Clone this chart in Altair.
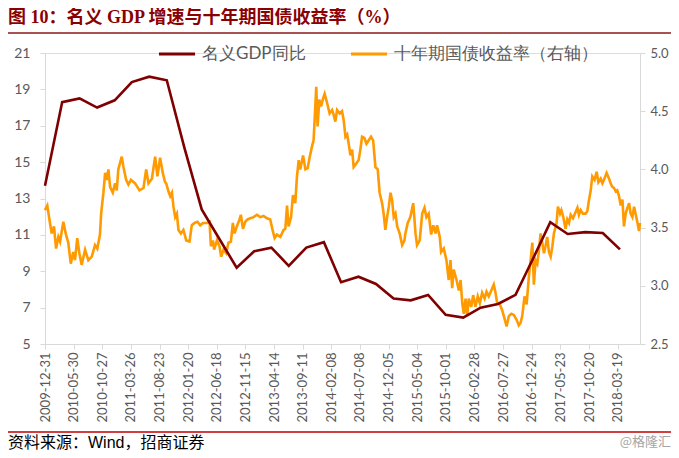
import altair as alt
import pandas as pd

# ---------------- data ----------------
GDP_DATES = [
    "2009-12-31", "2010-03-31", "2010-06-30", "2010-09-30", "2010-12-31",
    "2011-03-31", "2011-06-30", "2011-09-30", "2011-12-31", "2012-03-31",
    "2012-06-30", "2012-09-30", "2012-12-31", "2013-03-31", "2013-06-30",
    "2013-09-30", "2013-12-31", "2014-03-31", "2014-06-30", "2014-09-30",
    "2014-12-31", "2015-03-31", "2015-06-30", "2015-09-30", "2015-12-31",
    "2016-03-31", "2016-06-30", "2016-09-30", "2016-12-31", "2017-03-31",
    "2017-06-30", "2017-09-30", "2017-12-31", "2018-03-31",
]
GDP_VALUES = [
    13.7, 18.3, 18.5, 18.0, 18.4,
    19.4, 19.7, 19.5, 15.8, 12.4,
    10.8, 9.2, 10.1, 10.3, 9.3,
    10.3, 10.6, 8.4, 8.7, 8.3,
    7.5, 7.4, 7.7, 6.6, 6.45,
    7.0, 7.2, 7.7, 9.7, 11.7,
    11.05, 11.15, 11.1, 10.2,
]

# ten-year government bond yield: days after 2009-12-31 and yield (%)
BOND_START = "2009-12-31"
BOND_DAYS = [
    0, 12, 26, 35, 47, 58, 70, 79, 96, 110, 122, 135, 148, 157, 169, 180, 192,
    210, 227, 245, 262, 274, 288, 294, 306, 315, 324, 332, 341, 355, 367, 376,
    384, 402, 411, 425, 437, 450, 472, 495, 516, 530, 542, 560, 577, 589, 603,
    617, 629, 635, 647, 656, 665, 673, 682, 691, 699, 712, 725, 740, 757, 769,
    783, 799, 813, 827, 848, 862, 869, 880, 886, 901, 914, 923, 935, 949, 961,
    974, 984, 993, 1005, 1019, 1026, 1037, 1049, 1061, 1075, 1093, 1110, 1128,
    1145, 1163, 1180, 1192, 1203, 1215, 1233, 1250, 1259, 1268, 1276, 1289,
    1299, 1311, 1320, 1329, 1337, 1352, 1364, 1376, 1386, 1399, 1407, 1416,
    1421, 1428, 1437, 1446, 1457, 1465, 1478, 1491, 1504, 1512, 1521, 1530,
    1544, 1556, 1565, 1574, 1583, 1591, 1600, 1609, 1617, 1631, 1643, 1652,
    1661, 1673, 1684, 1696, 1708, 1719, 1731, 1743, 1753, 1766, 1774, 1783,
    1792, 1801, 1810, 1818, 1827, 1836, 1845, 1858, 1871, 1883, 1888, 1900,
    1914, 1929, 1941, 1949, 1963, 1976, 1988, 1998, 2010, 2023, 2034, 2046,
    2054, 2068, 2075, 2089, 2103, 2115, 2124, 2133, 2141, 2156, 2168, 2177,
    2186, 2194, 2203, 2212, 2220, 2233, 2243, 2255, 2267, 2278, 2290, 2303,
    2313, 2325, 2338, 2351, 2360, 2369, 2383, 2395, 2407, 2418, 2430, 2443,
    2456, 2470, 2482, 2491, 2500, 2512, 2523, 2535, 2544, 2553, 2561, 2570,
    2579, 2588, 2596, 2605, 2614, 2622, 2631, 2640, 2649, 2658, 2666, 2680,
    2687, 2698, 2705, 2715, 2727, 2736, 2745, 2754, 2766, 2776, 2789, 2797,
    2806, 2818, 2832, 2841, 2850, 2859, 2867, 2879, 2890, 2899, 2911, 2920,
    2928, 2942, 2955, 2963, 2972, 2981, 2990, 2998, 3007, 3016, 3025, 3033,
    3042, 3051, 3060, 3068, 3077, 3086, 3095, 3104, 3112, 3117,
]
BOND_VALUES = [
    3.65, 3.69, 3.54, 3.45, 3.51, 3.32, 3.42, 3.38, 3.55, 3.44, 3.37, 3.19,
    3.29, 3.22, 3.41, 3.28, 3.18, 3.31, 3.22, 3.25, 3.35, 3.32, 3.44, 3.62,
    3.80, 3.97, 3.91, 4.00, 3.85, 3.80, 3.88, 3.82, 4.00, 4.11, 4.02, 3.91,
    3.87, 3.91, 3.88, 3.82, 3.84, 4.00, 3.88, 3.92, 4.11, 3.94, 4.10, 3.97,
    3.89, 3.88, 3.81, 3.77, 3.80, 3.68, 3.59, 3.62, 3.48, 3.45, 3.48, 3.39,
    3.38, 3.52, 3.54, 3.55, 3.52, 3.54, 3.54, 3.55, 3.34, 3.39, 3.31, 3.39,
    3.34, 3.25, 3.31, 3.28, 3.37, 3.38, 3.54, 3.45, 3.51, 3.57, 3.61, 3.49,
    3.55, 3.57, 3.58, 3.59, 3.61, 3.59, 3.60, 3.58, 3.57, 3.48, 3.41, 3.44,
    3.42, 3.48, 3.49, 3.69, 3.51, 3.59, 3.78, 3.71, 3.94, 4.08, 4.00, 4.12,
    4.00, 4.01, 4.10, 4.20, 4.25, 4.54, 4.71, 4.37, 4.60, 4.54, 4.61, 4.65,
    4.57, 4.48, 4.51, 4.47, 4.41, 4.51, 4.48, 4.50, 4.42, 4.28, 4.30, 4.22,
    4.12, 4.17, 4.02, 4.05, 4.08, 4.17, 4.28, 4.27, 4.22, 4.25, 4.28, 4.25,
    4.02, 4.00, 3.80, 3.71, 3.62, 3.48, 3.59, 3.68, 3.80, 3.74, 3.59, 3.62,
    3.51, 3.45, 3.35, 3.39, 3.45, 3.54, 3.59, 3.71, 3.45, 3.35, 3.39, 3.62,
    3.67, 3.59, 3.62, 3.44, 3.52, 3.45, 3.52, 3.42, 3.29, 3.32, 3.22, 3.05,
    3.22, 2.98, 3.14, 3.05, 2.96, 3.05, 2.85, 2.76, 2.89, 2.74, 2.89, 2.82,
    2.92, 2.82, 2.91, 2.85, 2.94, 2.89, 2.95, 2.91, 2.96, 3.01, 2.94, 2.85,
    2.84, 2.79, 2.72, 2.65, 2.74, 2.76, 2.75, 2.71, 2.66, 2.68, 2.74, 2.91,
    2.84, 3.08, 3.22, 3.37, 3.01, 3.22, 3.19, 3.31, 3.45, 3.37, 3.28, 3.34,
    3.42, 3.29, 3.25, 3.34, 3.45, 3.54, 3.68, 3.62, 3.65, 3.59, 3.49, 3.57,
    3.54, 3.61, 3.58, 3.62, 3.67, 3.61, 3.65, 3.62, 3.62, 3.64, 3.74, 3.82,
    3.94, 3.91, 3.98, 3.89, 3.92, 3.88, 3.91, 3.97, 3.92, 3.88, 3.85, 3.84,
    3.81, 3.82, 3.77, 3.69, 3.74, 3.51, 3.62, 3.67, 3.71, 3.62, 3.59, 3.68,
    3.61, 3.54, 3.47, 3.54,
]

X_TICKS = [
    "2009-12-31", "2010-05-30", "2010-10-27", "2011-03-26", "2011-08-23",
    "2012-01-20", "2012-06-18", "2012-11-15", "2013-04-14", "2013-09-11",
    "2014-02-08", "2014-07-08", "2014-12-05", "2015-05-04", "2015-10-01",
    "2016-02-28", "2016-07-27", "2016-12-24", "2017-05-23", "2017-10-20",
    "2018-03-19",
]
LEFT_TICKS = [5, 7, 9, 11, 13, 15, 17, 19, 21]
RIGHT_TICKS = [2.5, 3.0, 3.5, 4.0, 4.5, 5.0]

SERIES = ["名义GDP同比", "十年期国债收益率（右轴）"]
COLORS = ["#7F0000", "#FF9A00"]

TITLE = "图 10：名义 GDP 增速与十年期国债收益率（%）"
SOURCE = "资料来源：Wind，招商证券"
MARK = "@格隆汇"

# ---------------- frames ----------------
gdp_df = pd.DataFrame({"date": GDP_DATES, "value": GDP_VALUES, "series": SERIES[0]})
bond_dates = (pd.Timestamp(BOND_START) + pd.to_timedelta(BOND_DAYS, unit="D")).strftime("%Y-%m-%d")
bond_df = pd.DataFrame({"date": list(bond_dates), "value": BOND_VALUES, "series": SERIES[1]})


def dt(s):
    y, m, d = (int(p) for p in s.split("-"))
    return alt.DateTime(year=y, month=m, date=d, utc=True)


W, H = 595, 291
AXIS_GREY = "#D9D9D9"
LABEL_GREY = "#595959"
FONT = "Lato"

x_enc = alt.X(
    "date:T",
    scale=alt.Scale(type="utc", nice=False),
    axis=alt.Axis(
        values=[dt(s) for s in X_TICKS], format="%Y-%m-%d", labelAngle=-90,
        title=None, grid=False, domainColor=AXIS_GREY, tickColor=AXIS_GREY,
        tickSize=5, labelColor=LABEL_GREY, labelFontSize=13, labelFont=FONT,
        labelPadding=3, labelOverlap=False, labelFlush=False,
    ),
)

color_enc = alt.Color(
    "series:N",
    scale=alt.Scale(domain=SERIES, range=COLORS),
    legend=alt.Legend(
        orient="none", legendX=112, legendY=-19, direction="horizontal",
        title=None, symbolType="stroke", symbolSize=1300, symbolStrokeWidth=3,
        labelFontSize=17, labelFont=FONT, labelColor=LABEL_GREY,
        labelOffset=5, columnPadding=38, labelLimit=400,
    ),
)

gdp = alt.Chart(gdp_df).mark_line(strokeWidth=2.6).encode(
    x=x_enc,
    y=alt.Y(
        "value:Q",
        scale=alt.Scale(domain=[5, 21], nice=False, zero=False),
        axis=alt.Axis(
            orient="left", values=LEFT_TICKS, title=None, grid=False,
            domainColor=AXIS_GREY, tickColor=AXIS_GREY, tickSize=5,
            labelColor=LABEL_GREY, labelFontSize=14, labelFont=FONT,
            labelPadding=10,
        ),
    ),
    color=color_enc,
)

bond = alt.Chart(bond_df).mark_line(strokeWidth=2.6).encode(
    x=x_enc,
    y=alt.Y(
        "value:Q",
        scale=alt.Scale(domain=[2.5, 5.0], nice=False, zero=False),
        axis=alt.Axis(
            orient="right", values=RIGHT_TICKS, format=".1f", title=None,
            grid=False, domainColor=AXIS_GREY, tickColor=AXIS_GREY, tickSize=5,
            labelColor=LABEL_GREY, labelFontSize=13, labelFont=FONT,
            labelPadding=5,
        ),
    ),
    color=color_enc,
)

lines = alt.layer(bond, gdp).resolve_scale(y="independent")

# ---------------- decorations (title, rules, source) ----------------
title = alt.Chart(pd.DataFrame({"t": [TITLE]})).mark_text(
    align="left", baseline="alphabetic", fontSize=18, fontWeight="bold",
    font="Liberation Serif, Noto Sans CJK SC", color="#8B0000",
).encode(text="t:N", x=alt.value(-37), y=alt.value(-30))

title_rule = alt.Chart(pd.DataFrame({"t": [0]})).mark_rule(
    color="#8B1A1A", strokeWidth=1.5
).encode(x=alt.value(-37), x2=alt.value(W + 31), y=alt.value(-20))

foot_rule = alt.Chart(pd.DataFrame({"t": [0]})).mark_rule(
    color="#C00000", strokeWidth=1.5
).encode(x=alt.value(-37), x2=alt.value(W + 31), y=alt.value(379))

source = alt.Chart(pd.DataFrame({"t": [SOURCE]})).mark_text(
    align="left", baseline="alphabetic", fontSize=16,
    font="Liberation Sans, Noto Sans CJK SC", color="#000000",
).encode(text="t:N", x=alt.value(-37), y=alt.value(395))

mark = alt.Chart(pd.DataFrame({"t": [MARK]})).mark_text(
    align="right", baseline="alphabetic", fontSize=13,
    font="Noto Sans CJK SC", color="#A6A6A6",
).encode(text="t:N", x=alt.value(W + 31), y=alt.value(393))

chart = (
    alt.layer(lines, title, title_rule, foot_rule, source, mark)
    .properties(
        width=W, height=H,
        autosize=alt.AutoSizeParams(type="none"),
        padding={"left": 37, "top": 45, "right": 31, "bottom": 106},
    )
    .configure_view(stroke=None)
    .configure(background="white")
)

chart.save("out.html", embed_options={"renderer": "svg", "actions": False})
